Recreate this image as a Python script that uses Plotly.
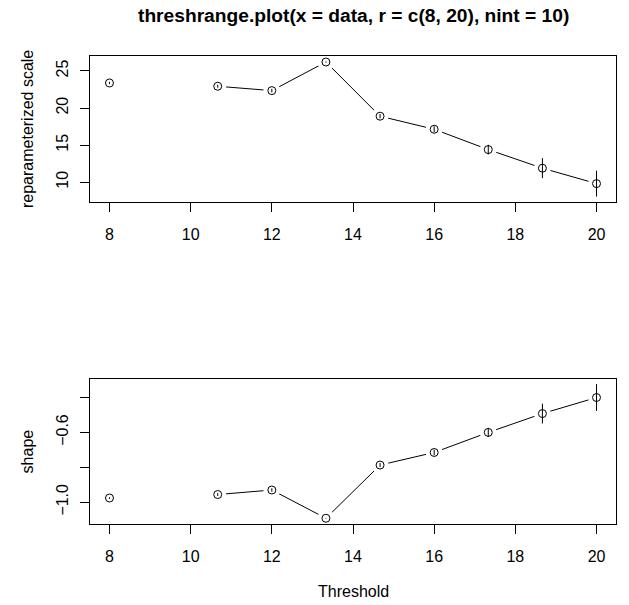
import plotly.graph_objects as go

# Thresholds tried (nint = 10 between 8 and 20); the fit at 9.33 failed -> None
thresholds = [8.0, 9.333, 10.667, 12.0, 13.333, 14.667, 16.0, 17.333, 18.667, 20.0]

# Reparameterized scale estimates with confidence limits
scale = [23.38, None, 22.94, 22.35, 26.21, 18.90, 17.14, 14.40, 11.89, 9.81]
scale_lo = [23.23, None, 22.74, 22.10, 26.13, 18.60, 16.74, 13.75, 10.54, 8.06]
scale_hi = [23.53, None, 23.14, 22.60, 26.29, 19.20, 17.54, 15.05, 13.24, 11.56]

# Shape estimates with confidence limits
shape = [-0.976, None, -0.956, -0.930, -1.092, -0.787, -0.715, -0.600, -0.492, -0.400]
shape_lo = [-0.981, None, -0.964, -0.940, -1.090, -0.799, -0.731, -0.626, -0.549, -0.477]
shape_hi = [-0.971, None, -0.948, -0.920, -1.094, -0.775, -0.699, -0.574, -0.435, -0.323]

title_text = "threshrange.plot(x = data, r = c(8, 20), nint = 10)"
xlab = "Threshold"
ylabs = ["reparameterized scale", "shape"]
xticks = [8, 10, 12, 14, 16, 18, 20]
scale_ticks = [10, 15, 20, 25]
shape_ticks = [-1.0, -0.8, -0.6, -0.4]
shape_ticktext = ["\u22121.0", "", "\u22120.6", ""]

FONT = "Liberation Sans, Arial, sans-serif"
FS = 16
W, H = 629, 605
ML, MR, MT, MB = 90, 12.7, 56.3, 80.7
plot_h = H - MT - MB


def r_range(lo, hi):
    vals = [v for v in lo + hi if v is not None]
    a, b = min(vals), max(vals)
    pad = 0.04 * (b - a)
    return [a - pad, b + pad]


def segments(x, lo, hi):
    xs, ys = [], []
    for xi, l, h in zip(x, lo, hi):
        if l is None:
            continue
        xs += [xi, xi, None]
        ys += [l, h, None]
    return xs, ys


fig = go.Figure()

panels = [
    ("x", "y", scale, scale_lo, scale_hi),
    ("x2", "y2", shape, shape_lo, shape_hi),
]
for xa, ya, est, lo, hi in panels:
    # connecting line (type "b"): break at missing fit
    fig.add_trace(go.Scatter(x=thresholds, y=est, mode="lines", xaxis=xa, yaxis=ya,
                             line=dict(color="black", width=1), connectgaps=False,
                             hoverinfo="skip", showlegend=False))
    # white discs give the gap between line and point
    fig.add_trace(go.Scatter(x=thresholds, y=est, mode="markers", xaxis=xa, yaxis=ya,
                             marker=dict(symbol="circle", size=17, color="white",
                                         line=dict(width=0)),
                             hoverinfo="skip", showlegend=False, cliponaxis=False))
    # confidence interval segments
    sx, sy = segments(thresholds, lo, hi)
    fig.add_trace(go.Scatter(x=sx, y=sy, mode="lines", xaxis=xa, yaxis=ya,
                             line=dict(color="black", width=1),
                             hoverinfo="skip", showlegend=False))
    # open circle points
    fig.add_trace(go.Scatter(x=thresholds, y=est, mode="markers", xaxis=xa, yaxis=ya,
                             marker=dict(symbol="circle-open", size=8, color="black",
                                         line=dict(width=1, color="black")),
                             showlegend=False, cliponaxis=False))

top_dom = [(H - MB - 202.3) / plot_h, 1.0]
bot_dom = [0.0, (H - MB - 379.0) / plot_h]

axis_common = dict(showline=True, mirror=True, linecolor="black", linewidth=1,
                   showgrid=False, zeroline=False, ticks="outside", ticklen=9,
                   tickcolor="black", tickwidth=1,
                   tickfont=dict(family=FONT, size=FS, color="black"))

x_range = [8 - 0.04 * 12, 20 + 0.04 * 12]
fig.update_layout(
    width=W, height=H,
    margin=dict(l=ML, r=MR, t=MT, b=MB),
    paper_bgcolor="white", plot_bgcolor="white",
    font=dict(family=FONT, size=FS, color="black"),
    xaxis=dict(range=x_range, tickvals=xticks, anchor="y", ticklabelstandoff=9,
               **axis_common),
    yaxis=dict(range=r_range(scale_lo, scale_hi), domain=top_dom, tickvals=scale_ticks,
               tickangle=-90, anchor="x", ticklabelstandoff=6, **axis_common),
    xaxis2=dict(range=x_range, tickvals=xticks, anchor="y2", ticklabelstandoff=9,
                **axis_common),
    yaxis2=dict(range=r_range(shape_lo, shape_hi), domain=bot_dom, tickvals=shape_ticks,
                ticktext=shape_ticktext, tickangle=-90, anchor="x2",
                ticklabelstandoff=6, **axis_common),
)

plot_w = W - ML - MR
annotations = [
    dict(text="<b>" + title_text + "</b>", xref="paper", yref="paper",
         x=0.5, y=1 + (MT - 16) / plot_h, xanchor="center", yanchor="middle",
         showarrow=False, font=dict(family=FONT, size=19.2, color="black")),
    dict(text=xlab, xref="paper", yref="paper", x=0.5, y=-(592 - (H - MB)) / plot_h,
         xanchor="center", yanchor="middle", showarrow=False,
         font=dict(family=FONT, size=FS, color="black")),
    dict(text=ylabs[0], xref="paper", yref="y domain", x=(27 - ML) / plot_w, y=0.5,
         xanchor="center", yanchor="middle", textangle=-90, showarrow=False,
         font=dict(family=FONT, size=FS, color="black")),
    dict(text=ylabs[1], xref="paper", yref="y2 domain", x=(27 - ML) / plot_w, y=0.5,
         xanchor="center", yanchor="middle", textangle=-90, showarrow=False,
         font=dict(family=FONT, size=FS, color="black")),
]
fig.update_layout(annotations=annotations)

fig.write_html("out.html")
